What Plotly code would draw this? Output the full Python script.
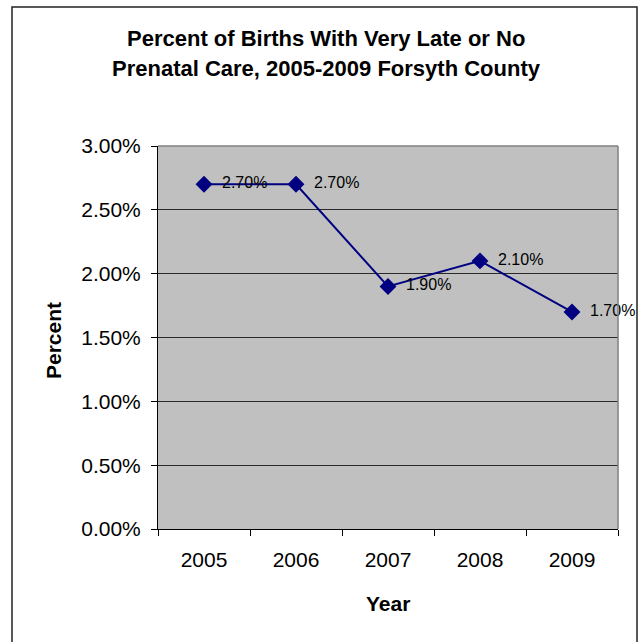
import plotly.graph_objects as go

# ---- data ----
years = ["2005", "2006", "2007", "2008", "2009"]
percent = [0.027, 0.027, 0.019, 0.021, 0.017]
title_lines = ["Percent of Births With Very Late or No",
               "Prenatal Care, 2005-2009 Forsyth County"]
x_title = "Year"
y_title = "Percent"

W, H = 639, 642
# plot-area pixel box
L, R, T, B = 158, 618, 146, 529
FONT = "Liberation Sans, Arial, sans-serif"


def px(x):
    return (x - L) / (R - L)


def py(y):
    return (B - y) / (B - T)


fig = go.Figure()
fig.add_trace(go.Scatter(
    x=years, y=percent,
    mode="lines+markers+text",
    line=dict(color="#000080", width=2),
    marker=dict(symbol="diamond", size=13, color="#000080"),
    text=["\u00a0\u00a0" + f"{v*100:.2f}%" for v in percent],
    textposition="middle right",
    textfont=dict(family=FONT, size=16, color="#000000"),
    cliponaxis=False,
    hoverinfo="skip",
))

fig.update_layout(
    width=W, height=H,
    margin=dict(l=L, r=W - R, t=T, b=H - B, pad=0),
    paper_bgcolor="#FFFFFF",
    plot_bgcolor="#C0C0C0",
    showlegend=False,
    font=dict(family=FONT, color="#000000"),
)

fig.update_xaxes(
    type="category", range=[-0.5, 4.5],
    tickson="boundaries", ticks="outside", ticklen=6, tickcolor="#000000",
    showline=True, linecolor="#000000", linewidth=1,
    showgrid=False, zeroline=False,
    tickfont=dict(family=FONT, size=21, color="#000000"),
    ticklabelstandoff=12,
)
fig.update_yaxes(
    range=[0, 0.03], dtick=0.005, tickformat=".2%",
    ticks="outside", ticklen=6, tickcolor="#000000",
    showline=True, linecolor="#000000", linewidth=1,
    showgrid=True, gridcolor="#2a2a2a", gridwidth=1,
    zeroline=False,
    tickfont=dict(family=FONT, size=21, color="#000000"),
    ticklabelstandoff=6,
)

# gray top/right border of plot area
fig.add_shape(type="line", xref="paper", yref="paper", x0=0, x1=1, y0=1, y1=1,
              line=dict(color="#808080", width=1.5))
fig.add_shape(type="line", xref="paper", yref="paper", x0=1, x1=1, y0=0, y1=1,
              line=dict(color="#808080", width=1.5))
# outer chart border
fig.add_shape(type="rect", xref="paper", yref="paper",
              x0=px(12), x1=px(637), y0=py(660), y1=py(7),
              line=dict(color="#222222", width=1.5), layer="below")

# title lines
for i, t in enumerate(title_lines):
    fig.add_annotation(text=f"<b>{t}</b>", xref="paper", yref="paper",
                       x=px(326), y=py(38.5 + 30 * i), showarrow=False,
                       xanchor="center", yanchor="middle",
                       font=dict(family=FONT, size=22, color="#000000"))
# axis titles
fig.add_annotation(text=f"<b>{x_title}</b>", xref="paper", yref="paper",
                   x=px(388), y=py(603), showarrow=False,
                   xanchor="center", yanchor="middle",
                   font=dict(family=FONT, size=21, color="#000000"))
fig.add_annotation(text=f"<b>{y_title}</b>", xref="paper", yref="paper",
                   x=px(53), y=py(341), showarrow=False, textangle=-90,
                   xanchor="center", yanchor="middle",
                   font=dict(family=FONT, size=21, color="#000000"))

fig.write_html("out.html",
               config={"displayModeBar": False},
               post_script="document.body.style.margin='0';"
                           "document.body.style.padding='0';"
                           "document.body.style.overflow='hidden';")
